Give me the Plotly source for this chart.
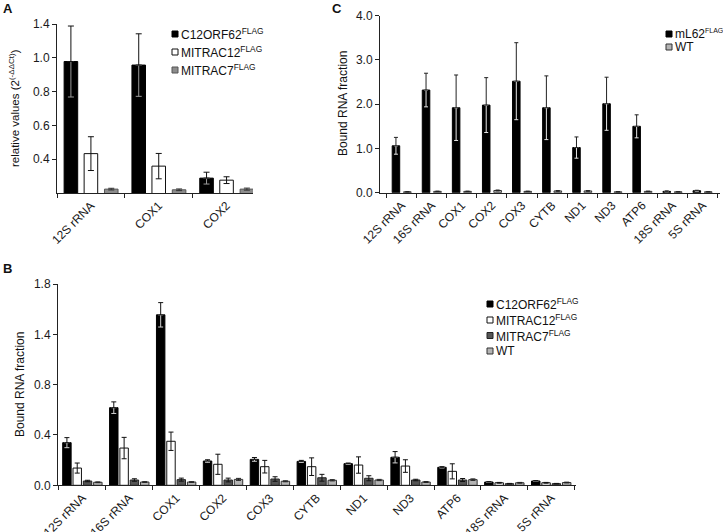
import plotly.graph_objects as go

# ---------------- data ----------------
catsA = ["12S rRNA", "COX1", "COX2"]
c12A = [0.978, 0.957, 0.288]
c12A_err = [0.21, 0.185, 0.035]
m12A = [0.433, 0.359, 0.276]
m12A_err = [0.10, 0.075, 0.02]
m7A = [0.223, 0.219, 0.223]
m7A_err = [0.005, 0.005, 0.006]
yticksA_val = [0.4, 0.6, 0.8, 1.0, 1.2]
yticksA_txt = ["0.4", "0.6", "0.8", "1.0", "1.4"]

catsB = ["12S rRNA", "16S rRNA", "COX1", "COX2", "COX3", "CYTB", "ND1", "ND3", "ATP6", "18S rRNA", "5S rRNA"]
c12B = [0.339, 0.617, 1.355, 0.193, 0.206, 0.19, 0.172, 0.223, 0.143, 0.026, 0.034]
c12B_err = [0.04, 0.046, 0.097, 0.01, 0.015, 0.008, 0.005, 0.045, 0.005, 0.003, 0.003]
m12B = [0.137, 0.296, 0.35, 0.167, 0.148, 0.148, 0.161, 0.153, 0.111, 0.02, 0.02]
m12B_err = [0.04, 0.085, 0.073, 0.08, 0.05, 0.07, 0.065, 0.05, 0.06, 0.003, 0.003]
m7B = [0.034, 0.042, 0.045, 0.042, 0.05, 0.06, 0.056, 0.042, 0.042, 0.013, 0.013]
m7B_err = [0.006, 0.01, 0.012, 0.015, 0.018, 0.027, 0.02, 0.006, 0.012, 0.002, 0.002]
wtB = [0.024, 0.026, 0.026, 0.047, 0.032, 0.04, 0.042, 0.026, 0.045, 0.02, 0.022]
wtB_err = [0.003, 0.003, 0.003, 0.008, 0.004, 0.005, 0.005, 0.004, 0.006, 0.003, 0.003]
yticksB_val = [0.0, 0.4, 0.8, 1.2, 1.6]
yticksB_txt = ["0.0", "0.4", "0.8", "1.4", "1.8"]

catsC = ["12S rRNA", "16S rRNA", "COX1", "COX2", "COX3", "CYTB", "ND1", "ND3", "ATP6", "18S rRNA", "5S rRNA"]
mL62C = [1.06, 2.32, 1.92, 1.98, 2.52, 1.92, 1.02, 2.01, 1.50, 0.03, 0.045]
mL62C_err = [0.19, 0.38, 0.74, 0.62, 0.87, 0.72, 0.24, 0.60, 0.26, 0.01, 0.01]
wtC = [0.02, 0.03, 0.03, 0.05, 0.03, 0.04, 0.04, 0.02, 0.03, 0.02, 0.02]
wtC_err = [0.005, 0.005, 0.005, 0.01, 0.005, 0.008, 0.008, 0.005, 0.006, 0.004, 0.004]
yticksC_val = [0, 1, 2, 3, 4]
yticksC_txt = ["0.0", "1.0", "2.0", "3.0", "4.0"]

# ---------------- layout helpers ----------------
W, H = 723, 532
FONT = "Liberation Sans, Arial, Helvetica, sans-serif"
def X(px):
    return px / W
def Y(py):
    return 1 - py / H

fig = go.Figure()

def add_bar(xa, ya, cats, vals, errs, center, width, fill, line, errcol, errin=None, capw=3):
    off = center - width / 2
    n = len(vals)
    if errin is None:
        fig.add_trace(go.Bar(
            x=cats, y=vals, xaxis=xa, yaxis=ya, offset=off, width=width,
            marker=dict(color=fill, line=dict(color=line, width=1)),
            error_y=dict(type="data", array=errs, color=errcol, thickness=1, width=capw),
            showlegend=False, hoverinfo="skip"))
    else:
        fig.add_trace(go.Bar(
            x=cats, y=vals, xaxis=xa, yaxis=ya, offset=off, width=width,
            marker=dict(color=fill, line=dict(color=line, width=1)),
            error_y=dict(type="data", symmetric=False, array=[0] * n, arrayminus=errs,
                         color=errin, thickness=1, width=capw),
            showlegend=False, hoverinfo="skip"))
        fig.add_trace(go.Bar(
            x=cats, y=vals, xaxis=xa, yaxis=ya, offset=off, width=width,
            marker=dict(color="rgba(0,0,0,0)", line=dict(width=0)),
            error_y=dict(type="data", symmetric=False, array=errs, arrayminus=[0] * n,
                         color=errcol, thickness=1, width=capw),
            showlegend=False, hoverinfo="skip"))

# Panel A
add_bar("x", "y", catsA, c12A, c12A_err, -0.295, 0.20, "#000000", "#000000", "#111111", errin="#9a9a9a", capw=3)
add_bar("x", "y", catsA, m12A, m12A_err, 0.0, 0.20, "#ffffff", "#111111", "#111111", capw=3)
add_bar("x", "y", catsA, m7A, m7A_err, 0.30, 0.20, "#8c8c8c", "#555555", "#333333", capw=3)

# Panel B
add_bar("x2", "y2", catsB, c12B, c12B_err, -0.33, 0.18, "#000000", "#000000", "#111111", errin="#d0d0d0", capw=2.5)
add_bar("x2", "y2", catsB, m12B, m12B_err, -0.11, 0.18, "#ffffff", "#111111", "#111111", capw=2.5)
add_bar("x2", "y2", catsB, m7B, m7B_err, 0.11, 0.18, "#555555", "#222222", "#111111", capw=2.5)
add_bar("x2", "y2", catsB, wtB, wtB_err, 0.33, 0.18, "#b4b4b4", "#333333", "#222222", capw=2.5)

# Panel C
add_bar("x3", "y3", catsC, mL62C, mL62C_err, -0.19, 0.25, "#000000", "#000000", "#222222", errin="#e6e6e6", capw=2)
add_bar("x3", "y3", catsC, wtC, wtC_err, 0.19, 0.25, "#b4b4b4", "#333333", "#222222", capw=2)

tickfont = dict(family=FONT, size=12, color="#1a1a1a")
common_x = dict(type="category", showline=True, linecolor="#222222", linewidth=1,
                ticks="outside", ticklen=4, tickwidth=1, tickcolor="#222222",
                tickson="boundaries", tickangle=-45, tickfont=tickfont,
                showgrid=False, zeroline=False, fixedrange=True, automargin=False)
common_y = dict(showline=True, linecolor="#222222", linewidth=1, ticks="outside",
                ticklen=4, tickwidth=1, tickcolor="#222222", tickfont=tickfont,
                showgrid=False, zeroline=False, tickmode="array", fixedrange=True,
                automargin=False)

fig.update_layout(
    template="none",
    width=W, height=H, margin=dict(l=0, r=0, t=0, b=0, pad=0),
    paper_bgcolor="white", plot_bgcolor="white", barmode="overlay",
    showlegend=False, hovermode=False, font=dict(family=FONT, color="#222222"),
    xaxis=dict(common_x, domain=[X(57), X(253)], range=[-0.5, 2.39], anchor="y"),
    yaxis=dict(common_y, domain=[Y(193), Y(24)], range=[0.2, 1.2],
               tickvals=yticksA_val, ticktext=yticksA_txt, anchor="x"),
    xaxis2=dict(common_x, domain=[X(58), X(575.6)], range=[-0.52, 10.52], anchor="y2"),
    yaxis2=dict(common_y, domain=[Y(485.3), Y(284)], range=[0, 1.6],
                tickvals=yticksB_val, ticktext=yticksB_txt, anchor="x2"),
    xaxis3=dict(common_x, domain=[X(380), X(720)], range=[-0.72, 10.58], anchor="y3"),
    yaxis3=dict(common_y, domain=[Y(192.7), Y(15.7)], range=[0, 4.0],
                tickvals=yticksC_val, ticktext=yticksC_txt, anchor="x3"),
)

ann = []
shapes = []
def label(x, y, text, size=12, bold=False, angle=0, xanchor="center"):
    ann.append(dict(x=X(x), y=Y(y), xref="paper", yref="paper", text=("<b>%s</b>" % text) if bold else text,
                    showarrow=False, textangle=angle, xanchor=xanchor, yanchor="middle",
                    font=dict(family=FONT, size=size, color="#111111")))

# panel letters
label(7.5, 9, "A", size=13, bold=True)
label(7, 268, "B", size=13, bold=True)
label(336.5, 8, "C", size=13, bold=True)

# axis titles
label(14, 108, "relative values (2<sup>(-ΔΔCt)</sup>)", size=11.5, angle=-90)
label(20, 385, "Bound RNA fraction", size=12, angle=-90)
label(343, 104, "Bound RNA fraction", size=12, angle=-90)

def legend_item(cx, cy, fill, line, text, size=12, half=3):
    shapes.append(dict(type="rect", xref="paper", yref="paper",
                       x0=X(cx - half), x1=X(cx + half), y0=Y(cy + half), y1=Y(cy - half),
                       fillcolor=fill, line=dict(color=line, width=1)))
    label(cx + half + 1, cy, text, size=size, xanchor="left")

# legend A
legend_item(175, 34, "#000000", "#000000", "C12ORF62<sup>FLAG</sup>")
legend_item(175, 52, "#ffffff", "#111111", "MITRAC12<sup>FLAG</sup>")
legend_item(175, 70, "#8c8c8c", "#555555", "MITRAC7<sup>FLAG</sup>")
# legend B
legend_item(490, 304, "#000000", "#000000", "C12ORF62<sup>FLAG</sup>")
legend_item(490, 320, "#ffffff", "#111111", "MITRAC12<sup>FLAG</sup>")
legend_item(490, 335.5, "#555555", "#222222", "MITRAC7<sup>FLAG</sup>")
legend_item(490, 351, "#b4b4b4", "#333333", "WT")
# legend C
legend_item(669, 34, "#000000", "#000000", "mL62<sup><span style=\"font-size:7px\">FLAG</span></sup>", size=12)
legend_item(669, 47, "#b4b4b4", "#333333", "WT", size=12)

fig.update_layout(annotations=ann, shapes=shapes)
fig.write_html("out.html",
               config={"displayModeBar": False, "staticPlot": True},
               post_script="document.body.style.margin='0';document.body.style.overflow='hidden';")
